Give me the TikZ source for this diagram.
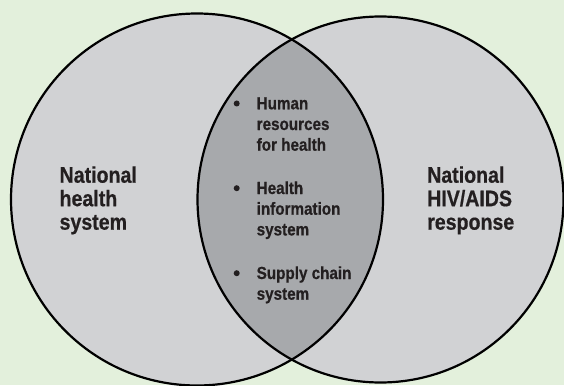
\documentclass[tikz,border=0pt]{standalone}
\usepackage{fontspec}
\setmainfont{Liberation Sans}[FakeStretch=0.87, BoldFeatures={FakeBold=0.6}]
\usetikzlibrary{positioning}
\definecolor{bggreen}{RGB}{227,240,220}
\definecolor{ringgray}{RGB}{209,210,212}
\definecolor{lensgray}{RGB}{167,169,172}
\definecolor{inkdark}{RGB}{35,31,32}
\tikzset{
  ring/.style={draw=black, line width=2.2pt},
  biglabel/.style={font=\bfseries\fontsize{22.5}{23.5}\selectfont, text=inkdark,
                   align=left, inner sep=0pt, anchor=base west},
  itemlabel/.style={font=\bfseries\fontsize{17.5}{20.7}\selectfont, text=inkdark,
                    align=left, inner sep=0pt, anchor=base west},
  bulletdot/.style={circle, fill=inkdark, inner sep=0pt, minimum size=6pt},
}

\begin{document}
\begin{tikzpicture}[x=1pt,y=-1pt]
  \fill[bggreen] (0,0) rectangle (564,385);
  \useasboundingbox (0,0) rectangle (564,385);
  \clip (0,0) rectangle (564,385);
  % circles
  \coordinate (lc) at (197,199.5);
  \coordinate (rc) at (380.5,199.5);
  \fill[ringgray] (lc) circle (186pt);
  \fill[ringgray] (rc) circle (183pt);
  \begin{scope}
    \clip (lc) circle (186pt);
    \fill[lensgray] (rc) circle (183pt);
  \end{scope}
  \draw[ring] (lc) circle (186pt);
  \draw[ring] (rc) circle (183pt);
  % side labels (anchored on last line)
  \node[biglabel] (nhs) at (59.4,229.7) {National\\health\\system};
  \node[biglabel] (nhr) at (427,229.7) {National\\HIV/AIDS\\response};
  % shared items
  \node[itemlabel] (hrh) at (256.5,150.7) {Human\\resources\\for health};
  \node[itemlabel] (his) at (256.5,235.4) {Health\\information\\system};
  \node[itemlabel] (scs) at (256.5,299.7) {Supply chain\\system};
  \foreach \n/\k in {hrh/2,his/2,scs/1}
    \node[bulletdot] (\n-dot) at ([xshift=-19.8pt,yshift=\k*20.7pt+5.8pt]\n.base west) {};
\end{tikzpicture}
\end{document}
